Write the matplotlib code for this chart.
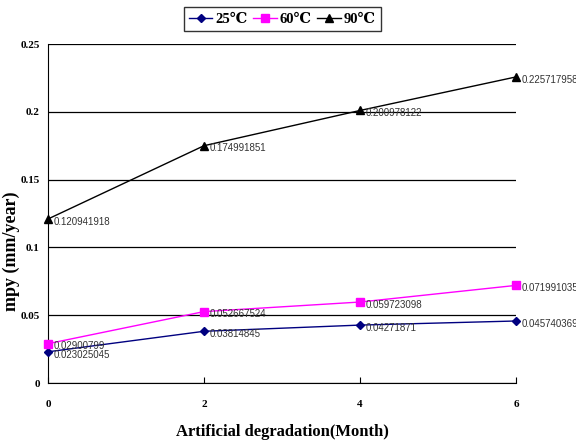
import matplotlib.pyplot as plt
import matplotlib

months = [0, 2, 4, 6]
mpy_25 = [0.023025045, 0.03814845, 0.04271871, 0.045740369]
mpy_60 = [0.02900799, 0.052667524, 0.059723098, 0.071991035]
mpy_90 = [0.120941918, 0.174991851, 0.200978122, 0.225717958]
labels = ["25\u2103", "60\u2103", "90\u2103"]


def main():
    matplotlib.rcParams['font.family'] = ['Liberation Serif', 'DejaVu Serif']
    fig = plt.figure(figsize=(5.76, 4.40), dpi=100)
    ax = fig.add_axes([0.0833, 0.1295, 0.8125, 0.7705])

    series = [
        (mpy_25, "#000080", "D", 4.5),
        (mpy_60, "#FF00FF", "s", 6),
        (mpy_90, "black", "^", 6),
    ]
    for ys, color, marker, ms in series:
        ax.plot(months, ys, color=color, marker=marker, markersize=ms,
                linewidth=1, clip_on=False, zorder=3)
        for x, y in zip(months, ys):
            ax.annotate(f"{y:.9g}", (x, y), xytext=(4, -2), textcoords="offset points",
                        fontsize=7, color="#333333", family="Liberation Sans",
                        va="center", ha="left", annotation_clip=False)

    ax.set_xlim(0, 6)
    ax.set_ylim(0, 0.25)
    ax.set_xticks(months)
    ax.set_yticks([0, 0.05, 0.1, 0.15, 0.2, 0.25])
    ax.set_yticklabels(["0", "0.05", "0.1", "0.15", "0.2", "0.25"])
    ax.yaxis.grid(True, color="black", linewidth=0.9)
    ax.set_axisbelow(True)
    ax.spines['top'].set_visible(False)
    ax.spines['right'].set_visible(False)
    ax.tick_params(axis='x', direction='in', length=4, pad=12)
    ax.tick_params(axis='y', length=0, pad=6)
    for t in ax.get_xticklabels() + ax.get_yticklabels():
        t.set_fontweight('bold')
        t.set_fontsize(8)

    ax.set_xlabel("Artificial degradation(Month)", fontsize=12, fontweight='bold', labelpad=11)
    ax.set_ylabel("mpy (mm/year)", fontsize=13, fontweight='bold')
    ax.yaxis.set_label_coords(-0.06, 0.39)

    leg = fig.legend(labels, loc='upper center', bbox_to_anchor=(0.49, 0.99), ncol=3,
                     frameon=True, fancybox=False, edgecolor='black',
                     prop={'weight': 'bold', 'size': 10.5, 'family': ['Liberation Serif', 'DejaVu Serif']},
                     handlelength=1.6, handletextpad=0.2, columnspacing=0.4,
                     borderpad=0.35, borderaxespad=0.2)
    leg.get_frame().set_linewidth(1.0)

    fig.savefig("out.png", dpi=100)


if __name__ == "__main__":
    main()
